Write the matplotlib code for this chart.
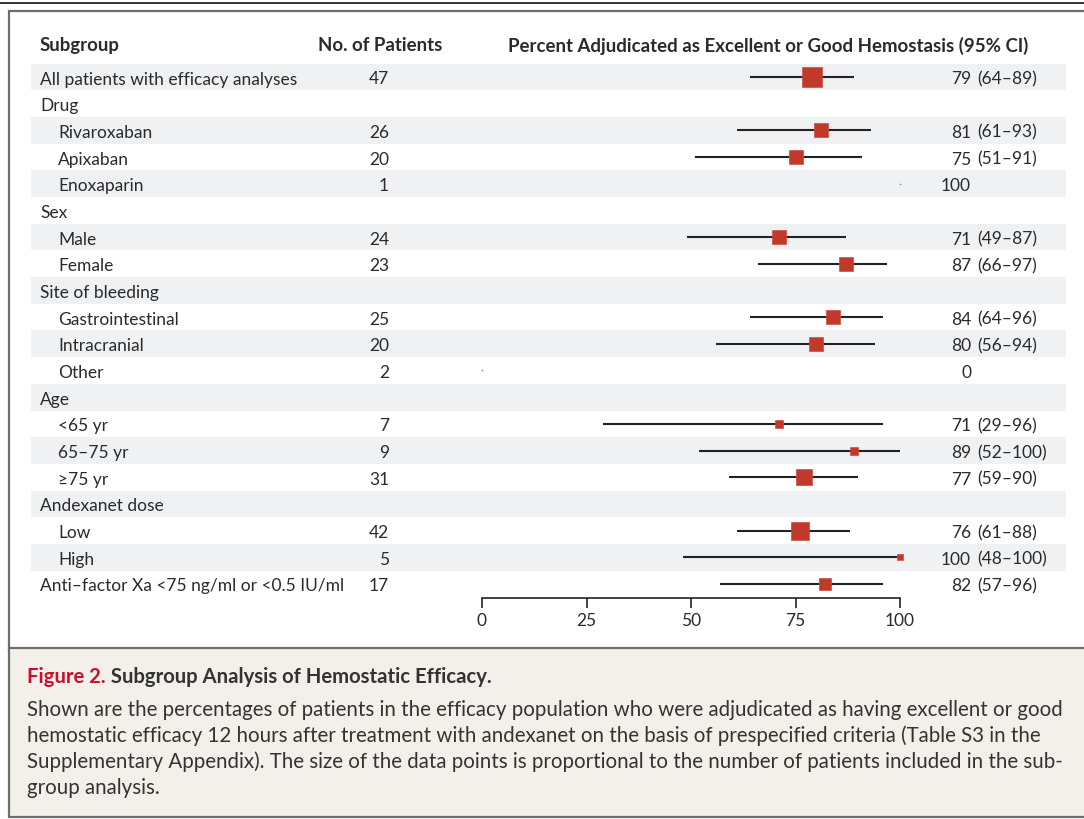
import matplotlib
matplotlib.use("Agg")
import matplotlib.pyplot as plt
from matplotlib.patches import Rectangle
from matplotlib.lines import Line2D

# ---------------- data ----------------
labels = ["All patients with efficacy analyses", "Drug", "Rivaroxaban", "Apixaban", "Enoxaparin",
          "Sex", "Male", "Female", "Site of bleeding", "Gastrointestinal", "Intracranial", "Other",
          "Age", "<65 yr", "65\u201375 yr", "\u226575 yr", "Andexanet dose", "Low", "High",
          "Anti\u2013factor Xa <75 ng/ml or <0.5 IU/ml"]
indent = [0, 0, 1, 1, 1, 0, 1, 1, 0, 1, 1, 1, 0, 1, 1, 1, 0, 1, 1, 0]
n_patients = [47, None, 26, 20, 1, None, 24, 23, None, 25, 20, 2, None, 7, 9, 31, None, 42, 5, 17]
estimate = [79, None, 81, 75, 100, None, 71, 87, None, 84, 80, 0, None, 71, 89, 77, None, 76, 100, 82]
ci_low = [64, None, 61, 51, None, None, 49, 66, None, 64, 56, None, None, 29, 52, 59, None, 61, 48, 57]
ci_high = [89, None, 93, 91, None, None, 87, 97, None, 96, 94, None, None, 96, 100, 90, None, 88, 100, 96]
xticks = [0, 25, 50, 75, 100]

W, H = 1084, 820
FONT = "Lato"
TXT = "#2a2a2a"
RED = "#c0392b"

fig = plt.figure(figsize=(W / 100, H / 100), dpi=100)
bg = fig.add_axes([0, 0, 1, 1])
bg.set_xlim(0, W)
bg.set_ylim(H, 0)
bg.axis("off")

# frame
bg.add_line(Line2D([0, W], [4, 4], color="#333333", lw=1.4))
bg.add_patch(Rectangle((9, 11.5), W + 20, 638, facecolor="white", edgecolor="#6e6e6e", lw=1.6))
bg.add_patch(Rectangle((9, 649), W + 20, 169, facecolor="#f3f0ea", edgecolor="#6e6e6e", lw=1.6))

row0, dy = 78, 26.68
rows = [row0 + dy * i for i in range(len(labels))]

# shaded bands
for i, y in enumerate(rows):
    if i % 2 == 0:
        bg.add_patch(Rectangle((31, y - dy / 2), 1066 - 31, dy, facecolor="#f0f1f3", edgecolor="none"))

fs = 12.5
bfs = 13.45
yo = 1.5
# headers
bg.text(40, 44 + yo, "Subgroup", fontsize=bfs, fontweight="bold", family=FONT, color=TXT, va="center")
bg.text(318, 44 + yo, "No. of Patients", fontsize=bfs, fontweight="bold", family=FONT, color=TXT, va="center")
bg.text(508, 44 + yo, "Percent Adjudicated as Excellent or Good Hemostasis (95% CI)", fontsize=bfs,
        fontweight="bold", family=FONT, color=TXT, va="center")

for i, y in enumerate(rows):
    bg.text(40 + 18 * indent[i], y + yo, labels[i], fontsize=fs, family=FONT, color=TXT, va="center")
    if n_patients[i] is not None:
        bg.text(389, y + yo, str(n_patients[i]), fontsize=fs, family=FONT, color=TXT, va="center", ha="right")
    if estimate[i] is not None:
        bg.text(971, y + yo, str(estimate[i]), fontsize=fs, family=FONT, color=TXT, va="center", ha="right")
        if ci_low[i] is not None:
            bg.text(977.5, y + yo, "(%d\u2013%d)" % (ci_low[i], ci_high[i]), fontsize=fs, family=FONT,
                    color=TXT, va="center", ha="left")

# forest axes
ax_top, ax_bot = 60, 599
ax = fig.add_axes([482 / W, 1 - ax_bot / H, (900 - 482) / W, (ax_bot - ax_top) / H])
ax.set_xlim(0, 100)
ax.set_ylim(ax_bot, ax_top)
ax.patch.set_alpha(0)
for s in ["top", "right", "left"]:
    ax.spines[s].set_visible(False)
ax.spines["bottom"].set_color("#222222")
ax.spines["bottom"].set_linewidth(1.2)
ax.set_yticks([])
ax.set_xticks(xticks)
ax.tick_params(axis="x", direction="out", length=7, width=1.2, color="#222222", pad=3,
               labelsize=fs, labelcolor=TXT)
for lab in ax.get_xticklabels():
    lab.set_family(FONT)

max_n = max(v for v in n_patients if v is not None)
for i, y in enumerate(rows):
    if estimate[i] is None:
        continue
    if ci_low[i] is not None:
        ax.plot([ci_low[i], ci_high[i]], [y, y], color="#222222", lw=1.5, solid_capstyle="butt",
                zorder=2, clip_on=False)
        side_px = 20 * (n_patients[i] / max_n) ** 0.5
        ax.plot([estimate[i]], [y], marker="s", ms=side_px * 0.72, color=RED, mec="#d04a3c",
                mew=0.5, zorder=3, clip_on=False)
    else:
        ax.plot([estimate[i]], [y], marker="o", ms=1.2, color="#888888", mew=0, zorder=3, clip_on=False)

# caption
cfs = 14.6
t1 = bg.text(27, 677, "Figure 2.", fontsize=cfs, fontweight="bold", family=FONT, color="#c8102e",
             va="center")
bg.annotate(" Subgroup Analysis of Hemostatic Efficacy.", xy=(1, 0), xycoords=t1, va="bottom",
            fontsize=cfs, fontweight="bold", family=FONT, color="#333333")
caption = ["Shown are the percentages of patients in the efficacy population who were adjudicated as having excellent or good",
           "hemostatic efficacy 12 hours after treatment with andexanet on the basis of prespecified criteria (Table S3 in the",
           "Supplementary Appendix). The size of the data points is proportional to the number of patients included in the sub-",
           "group analysis."]
for k, line in enumerate(caption):
    bg.text(27, 710 + 26 * k, line, fontsize=14.78, family=FONT, color="#333333", va="center")

fig.savefig("out.png", dpi=100)
